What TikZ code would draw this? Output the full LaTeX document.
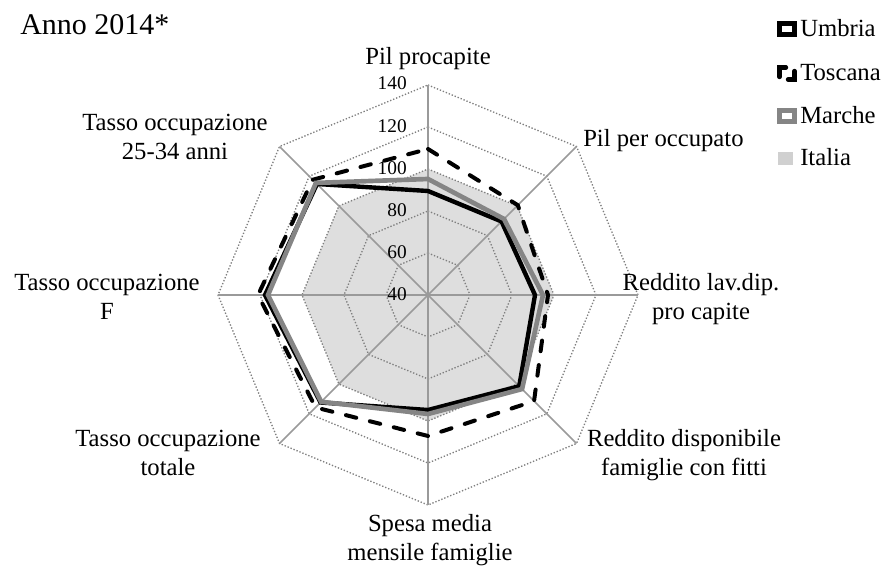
\documentclass[tikz,border=0pt]{standalone}
\usepackage{fontspec}
\setmainfont{Liberation Serif}
\definecolor{gridc}{HTML}{7F7F7F}
\definecolor{axisc}{HTML}{9A9A9A}
\definecolor{marchec}{HTML}{858585}
\definecolor{italiac}{HTML}{DEDEDE}
\tikzset{
  gridring/.style={draw=gridc, line width=1pt, dash pattern=on 1pt off 1.4pt},
  axisline/.style={draw=axisc, line width=1.1pt},
  umbria/.style={draw=black, line width=3.3pt, line join=miter},
  toscana/.style={draw=black, line width=3pt, line cap=round, dash pattern=on 8pt off 10.5pt},
  marche/.style={draw=marchec, line width=3.5pt, line join=miter},
  italia/.style={fill=italiac},
  cat/.style={font=\fontsize{18.5}{21.75}\selectfont, inner sep=0pt, anchor=base},
  val/.style={font=\fontsize{14.5}{16}\selectfont, inner sep=0pt, anchor=base east},
  leg/.style={font=\fontsize{18.5}{21.75}\selectfont, inner sep=0pt, anchor=base west},
}
\begin{document}
\begin{tikzpicture}[x=0.75pt,y=0.75pt]
\useasboundingbox (0,0) rectangle (888,571);
\coordinate (O) at (428,276);
\begin{scope}[shift={(O)}]
  % Italia
  \fill[italia] (90:126) -- (45:126) -- (0:126) -- (-45:126) -- (-90:126) -- (-135:126) -- (180:126) -- (135:126) -- cycle;
  % grid rings
  \foreach \r in {42,84,126,168,210}
    \draw[gridring] (90:\r) -- (45:\r) -- (0:\r) -- (-45:\r) -- (-90:\r) -- (-135:\r) -- (180:\r) -- (135:\r) -- cycle;
  % axes
  \foreach \a in {90,45,0,-45,-90,-135,180,135}
    \draw[axisline] (0,0) -- (\a:210);
  % series
  \draw[umbria] (90:104) -- (45:104) -- (0:107) -- (-45:129) -- (-90:115) -- (-135:152) -- (180:163) -- (135:157) -- cycle;
  \draw[toscana] (90:146) -- (45:127) -- (0:120) -- (-45:150) -- (-90:141) -- (-135:159) -- (180:170) -- (135:163) -- cycle;
  \draw[marche] (90:116) -- (45:107.5) -- (0:115) -- (-45:133) -- (-90:119) -- (-135:151) -- (180:160) -- (135:158.5) -- cycle;
\end{scope}
% value labels
\node[val] (v140) at (407,481) {140};
\node[val] (v120) at (407,438) {120};
\node[val] (v100) at (407,396) {100};
\node[val] (v80) at (407,354) {80};
\node[val] (v60) at (407,312) {60};
\node[val] (v40) at (407,270) {40};
% category labels
\node[cat] (c1) at (428,506) {Pil procapite};
\node[cat, anchor=base west] (c2) at (583,424) {Pil per occupato};
\node[cat] (c3a) at (701,280) {Reddito lav.dip.};
\node[cat] (c3b) at (701,251) {pro capite};
\node[cat] (c4a) at (684,124) {Reddito disponibile};
\node[cat] (c4b) at (684,95) {famiglie con fitti};
\node[cat] (c5a) at (430,40) {Spesa media};
\node[cat] (c5b) at (430,11) {mensile famiglie};
\node[cat] (c6a) at (168,124) {Tasso occupazione};
\node[cat] (c6b) at (168,95) {totale};
\node[cat] (c7a) at (107,280) {Tasso occupazione};
\node[cat] (c7b) at (107,251) {F};
\node[cat] (c8a) at (175,440) {Tasso occupazione};
\node[cat] (c8b) at (175,411) {25-34 anni};
% title
\node[font=\fontsize{22.5}{26}\selectfont, inner sep=0pt, anchor=base west] (title) at (20,536) {Anno 2014*};
% legend
\draw[draw=black, line width=3.5pt] (779.5,536.5) rectangle (794.5,547.5);
\node[leg] (lu) at (800,534) {Umbria};
\draw[draw=black, line width=3.3pt, line cap=round] (779.5,494) -- (779.5,503.5) -- (786,503.5);
\draw[draw=black, line width=3.3pt, line cap=round] (794.5,500) -- (794.5,491.5) -- (788,491.5);
\node[leg] (lt) at (800,490) {Toscana};
\draw[draw=marchec, line width=3.5pt] (779.5,449.5) rectangle (794.5,460.5);
\node[leg] (lm) at (800,447.5) {Marche};
\fill[italiac!85!gray] (778,406) rectangle (793,419);
\node[leg] (li) at (800,405) {Italia};
\end{tikzpicture}
\end{document}
